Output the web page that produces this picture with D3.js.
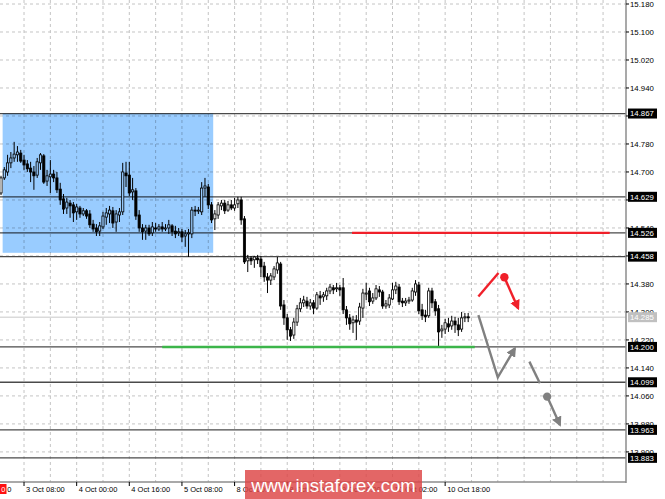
<!DOCTYPE html>
<html>
<head>
<meta charset="utf-8">
<script src="https://cdn.jsdelivr.net/npm/d3@7/dist/d3.min.js"></script>
<style>
  body { margin: 0; background: #fff; }
  svg { display: block; font-family: "Liberation Sans", Arial, sans-serif; }
</style>
</head>
<body>
<svg id="chart"></svg>
<script>
// H1 candles, bar index 0 .. 142
var opens = [14.640,14.683,14.700,14.726,14.740,14.749,14.754,14.734,14.723,14.711,14.700,14.691,14.726,14.746,14.674,14.686,14.694,14.683,14.651,14.623,
  14.597,14.611,14.606,14.586,14.597,14.580,14.589,14.580,14.551,14.540,14.531,14.543,14.571,14.580,14.589,14.557,14.577,14.586,14.697,14.691,
  14.643,14.646,14.577,14.540,14.531,14.540,14.526,14.540,14.537,14.543,14.537,14.540,14.546,14.531,14.526,14.529,14.517,14.523,14.523,14.591,
  14.589,14.586,14.654,14.657,14.606,14.566,14.577,14.603,14.611,14.591,14.606,14.597,14.609,14.620,14.566,14.446,14.454,14.449,14.454,14.451,
  14.431,14.400,14.391,14.400,14.420,14.437,14.320,14.283,14.249,14.234,14.271,14.309,14.326,14.331,14.317,14.326,14.311,14.346,14.343,14.346,
  14.360,14.369,14.366,14.369,14.369,14.306,14.283,14.269,14.277,14.274,14.311,14.351,14.360,14.331,14.340,14.363,14.357,14.317,14.320,14.337,
  14.363,14.371,14.331,14.326,14.331,14.334,14.357,14.377,14.306,14.291,14.289,14.360,14.329,14.309,14.246,14.251,14.266,14.260,14.274,14.263,
  14.251,14.283,14.286];
var highs = [14.689,14.714,14.749,14.757,14.786,14.774,14.763,14.749,14.734,14.729,14.717,14.740,14.754,14.751,14.706,14.734,14.706,14.700,14.669,14.637,
  14.626,14.620,14.614,14.609,14.603,14.597,14.594,14.591,14.563,14.551,14.557,14.586,14.597,14.603,14.600,14.591,14.597,14.726,14.729,14.729,
  14.683,14.654,14.591,14.551,14.549,14.549,14.557,14.554,14.551,14.557,14.551,14.563,14.551,14.546,14.540,14.537,14.534,14.537,14.600,14.603,
  14.600,14.671,14.683,14.666,14.614,14.591,14.614,14.620,14.620,14.617,14.620,14.626,14.629,14.629,14.574,14.463,14.460,14.460,14.463,14.460,
  14.443,14.411,14.411,14.431,14.457,14.443,14.334,14.294,14.257,14.283,14.320,14.340,14.346,14.343,14.337,14.334,14.357,14.360,14.357,14.369,
  14.380,14.377,14.383,14.377,14.397,14.317,14.294,14.289,14.291,14.326,14.366,14.383,14.369,14.354,14.377,14.374,14.363,14.334,14.351,14.383,
  14.386,14.380,14.340,14.340,14.343,14.369,14.391,14.386,14.323,14.306,14.369,14.369,14.337,14.320,14.263,14.280,14.283,14.289,14.286,14.283,
  14.300,14.297,14.297];
var lows = [14.634,14.677,14.689,14.711,14.729,14.729,14.726,14.706,14.700,14.671,14.649,14.683,14.706,14.666,14.660,14.640,14.671,14.640,14.606,14.580,
  14.580,14.569,14.557,14.563,14.569,14.574,14.566,14.540,14.529,14.517,14.517,14.537,14.549,14.554,14.540,14.529,14.557,14.577,14.657,14.631,
  14.620,14.563,14.529,14.506,14.506,14.517,14.517,14.529,14.531,14.529,14.531,14.523,14.517,14.511,14.517,14.500,14.486,14.457,14.511,14.574,
  14.580,14.577,14.629,14.594,14.554,14.534,14.566,14.591,14.580,14.586,14.591,14.589,14.597,14.549,14.437,14.414,14.434,14.426,14.437,14.400,
  14.386,14.354,14.377,14.391,14.409,14.306,14.263,14.220,14.217,14.223,14.260,14.300,14.314,14.309,14.306,14.294,14.306,14.320,14.329,14.334,
  14.351,14.351,14.357,14.346,14.294,14.263,14.249,14.240,14.220,14.263,14.283,14.334,14.317,14.323,14.334,14.343,14.309,14.309,14.311,14.334,
  14.351,14.320,14.314,14.317,14.323,14.329,14.346,14.294,14.277,14.271,14.283,14.311,14.289,14.200,14.226,14.237,14.243,14.249,14.240,14.231,
  14.243,14.271,14.271];
var closes = [14.683,14.706,14.726,14.740,14.751,14.757,14.731,14.720,14.709,14.700,14.689,14.729,14.749,14.671,14.689,14.694,14.683,14.649,14.620,14.594,
  14.614,14.603,14.583,14.600,14.580,14.589,14.574,14.549,14.537,14.529,14.546,14.574,14.583,14.591,14.554,14.580,14.586,14.700,14.689,14.640,
  14.649,14.574,14.540,14.529,14.540,14.523,14.543,14.537,14.543,14.537,14.540,14.549,14.529,14.523,14.529,14.514,14.523,14.526,14.591,14.589,
  14.591,14.654,14.660,14.606,14.563,14.580,14.606,14.611,14.589,14.606,14.597,14.606,14.620,14.563,14.443,14.454,14.446,14.457,14.449,14.429,
  14.400,14.391,14.403,14.423,14.440,14.317,14.283,14.249,14.231,14.271,14.309,14.326,14.334,14.317,14.326,14.311,14.349,14.340,14.349,14.360,
  14.371,14.363,14.369,14.363,14.306,14.283,14.266,14.277,14.271,14.314,14.354,14.354,14.329,14.340,14.366,14.357,14.317,14.323,14.340,14.363,
  14.374,14.329,14.326,14.331,14.334,14.360,14.380,14.303,14.289,14.286,14.360,14.326,14.303,14.243,14.251,14.269,14.257,14.274,14.263,14.249,
  14.283,14.286,14.285];

var priceTicks = [13.900, 13.980, 14.060, 14.140, 14.220, 14.300, 14.380, 14.460, 14.540, 14.620, 14.700, 14.780, 14.860, 14.940, 15.020, 15.100, 15.180];
var levels = [14.867, 14.629, 14.526, 14.458, 14.200, 14.099, 13.963, 13.883];
var lastPrice = 14.285;

var timeTickIdx = [7, 23, 39, 55, 71, 87, 103, 119, 135];
var timeTickLabels = ["3 Oct 08:00", "4 Oct 00:00", "4 Oct 16:00", "5 Oct 08:00",
  "8 Oct 00:00", "8 Oct 16:00", "9 Oct 10:00", "10 Oct 02:00", "10 Oct 18:00"];

// drawn objects: range box, resistance / support segments, forecast arrows
var box = { from: 0.5, to: 64.5, top: 14.867, bottom: 14.469 };
var redLine = { from: 106.7, to: 185, price: 14.526 };
var greenLine = { from: 49, to: 144, price: 14.200 };
var redPath = [[145.1, 14.344], [151.2, 14.411]];
var redDot = [153.0, 14.399];
var redArrow = [[153.0, 14.399], [157.2, 14.310]];
var grayPath = [[145.1, 14.291], [151.0, 14.113], [156.2, 14.196]];
var grayPath2 = [[160.6, 14.158], [163.8, 14.096]];
var grayDot = [166.0, 14.058];
var grayArrow = [[166.0, 14.058], [169.9, 13.977]];

var width = 665, height = 499;
var plotW = 626, plotH = 482;

var svg = d3.select("#chart").attr("width", width).attr("height", height);

var x = d3.scaleLinear().domain([0, 190]).range([1, 626.1]);
var y = d3.scaleLinear().domain([13.814, 15.18]).range([482, 4]);

var defs = svg.append("defs");
defs.append("clipPath").attr("id", "plot").append("rect")
    .attr("width", plotW).attr("height", plotH);

function marker(id, color) {
  defs.append("marker")
      .attr("id", id)
      .attr("viewBox", "0 0 10 10")
      .attr("refX", 8).attr("refY", 5)
      .attr("markerWidth", 4.2).attr("markerHeight", 4.2)
      .attr("markerUnits", "strokeWidth")
      .attr("orient", "auto")
    .append("path")
      .attr("d", "M0,0L10,5L0,10Z")
      .attr("fill", color);
}
marker("headRed", "#f0202a");
marker("headGray", "#808080");

var g = svg.append("g").attr("clip-path", "url(#plot)");

// dashed grid
var gridIdx = d3.range(-1, 190, 8);
g.selectAll("line.vgrid").data(gridIdx).enter().append("line")
    .attr("x1", function(d) { return x(d); }).attr("x2", function(d) { return x(d); })
    .attr("y1", 0).attr("y2", plotH)
    .attr("stroke", "#c4c4c4").attr("stroke-dasharray", "3,3");

g.selectAll("line.hgrid").data(priceTicks).enter().append("line")
    .attr("x1", 0).attr("x2", plotW)
    .attr("y1", function(d) { return y(d); }).attr("y2", function(d) { return y(d); })
    .attr("stroke", "#c4c4c4").attr("stroke-dasharray", "3,3");

// current price line
g.append("line")
    .attr("x1", 0).attr("x2", plotW)
    .attr("y1", y(lastPrice)).attr("y2", y(lastPrice))
    .attr("stroke", "#c8c8c8");

// horizontal levels
g.selectAll("line.level").data(levels).enter().append("line")
    .attr("x1", 0).attr("x2", plotW)
    .attr("y1", function(d) { return y(d); }).attr("y2", function(d) { return y(d); })
    .attr("stroke", "#4a4a4a").attr("stroke-width", 1.3);

// candles
var bars = closes.map(function(c, i) {
  return { i: i, o: opens[i], h: highs[i], l: lows[i], c: c };
});

var candle = g.selectAll("g.candle").data(bars).enter().append("g");

candle.append("line")
    .attr("x1", function(d) { return x(d.i); }).attr("x2", function(d) { return x(d.i); })
    .attr("y1", function(d) { return y(d.h); }).attr("y2", function(d) { return y(d.l); })
    .attr("stroke", "#000").attr("stroke-width", 1);

candle.append("rect")
    .attr("x", function(d) { return x(d.i) - 1.1; })
    .attr("width", 2.2)
    .attr("y", function(d) { return y(Math.max(d.o, d.c)); })
    .attr("height", function(d) { return Math.max(1, Math.abs(y(d.o) - y(d.c))); })
    .attr("fill", function(d) { return d.c >= d.o ? "#fff" : "#000"; })
    .attr("stroke", "#000").attr("stroke-width", 0.8);

// range rectangle, blended over candles
g.append("rect")
    .attr("x", x(box.from)).attr("width", x(box.to) - x(box.from))
    .attr("y", y(box.top)).attr("height", y(box.bottom) - y(box.top))
    .attr("fill", "#99ccff")
    .style("mix-blend-mode", "multiply");

// red and green segments
g.append("line")
    .attr("x1", x(redLine.from)).attr("x2", x(redLine.to))
    .attr("y1", y(redLine.price)).attr("y2", y(redLine.price))
    .attr("stroke", "#f0202a").attr("stroke-width", 2.4);

g.append("line")
    .attr("x1", x(greenLine.from)).attr("x2", x(greenLine.to))
    .attr("y1", y(greenLine.price)).attr("y2", y(greenLine.price))
    .attr("stroke", "#3cb54a").attr("stroke-width", 2.4);

// forecast arrows
var line = d3.line()
    .x(function(d) { return x(d[0]); })
    .y(function(d) { return y(d[1]); });

function path(pts, color, head) {
  var p = g.append("path")
      .attr("d", line(pts))
      .attr("fill", "none")
      .attr("stroke", color).attr("stroke-width", 2.4)
      .attr("stroke-linejoin", "miter");
  if (head) p.attr("marker-end", "url(#" + head + ")");
}

path(redPath, "#f0202a");
path(redArrow, "#f0202a", "headRed");
g.append("circle").attr("cx", x(redDot[0])).attr("cy", y(redDot[1])).attr("r", 4.2).attr("fill", "#f0202a");

path(grayPath, "#808080", "headGray");
path(grayPath2, "#808080");
path(grayArrow, "#808080", "headGray");
g.append("circle").attr("cx", x(grayDot[0])).attr("cy", y(grayDot[1])).attr("r", 4.2).attr("fill", "#808080");

// frame
svg.append("line").attr("x1", plotW).attr("x2", plotW).attr("y1", 0).attr("y2", plotH + 1)
    .attr("stroke", "#8c8c8c").attr("stroke-width", 1.5);
svg.append("line").attr("x1", 0).attr("x2", plotW).attr("y1", plotH).attr("y2", plotH)
    .attr("stroke", "#8c8c8c").attr("stroke-width", 1.5);

// price axis (labels fully under a level box are not shown)
var ax = svg.append("g").attr("font-size", "7.8px").attr("fill", "#000");
priceTicks.forEach(function(p) {
  ax.append("line").attr("x1", plotW).attr("x2", plotW + 3)
      .attr("y1", y(p)).attr("y2", y(p)).attr("stroke", "#000");
  var hidden = levels.some(function(l) { return Math.abs(l - p) < 0.012; });
  if (hidden) return;
  ax.append("text").attr("x", plotW + 4).attr("y", y(p)).attr("dy", "0.35em")
      .text(p.toFixed(3));
});

function priceBox(p, bg) {
  ax.append("rect").attr("x", plotW + 2).attr("y", y(p) - 5)
      .attr("width", 29).attr("height", 10).attr("fill", bg);
  ax.append("text").attr("x", plotW + 4).attr("y", y(p)).attr("dy", "0.35em")
      .attr("fill", "#fff").text(p.toFixed(3));
}
priceBox(lastPrice, "#c0c0c0");
levels.forEach(function(p) { priceBox(p, "#000"); });

// time axis
var tx = svg.append("g").attr("font-size", "7.5px").attr("fill", "#000");
tx.append("rect").attr("x", 0).attr("y", 484).attr("width", 6.5).attr("height", 10).attr("fill", "#ff1010");
tx.append("text").attr("x", 1.2).attr("y", 492).attr("fill", "#fff").text("0");
tx.append("text").attr("x", 7.2).attr("y", 492).text("0");
timeTickIdx.forEach(function(idx, k) {
  tx.append("line").attr("x1", x(idx)).attr("x2", x(idx))
      .attr("y1", plotH).attr("y2", plotH + 4).attr("stroke", "#000");
  tx.append("text").attr("x", x(idx) + 2).attr("y", 492)
      .text(timeTickLabels[k]);
});

// watermark
svg.append("rect").attr("x", 245).attr("y", 470).attr("width", 177).attr("height", 29)
    .attr("fill", "#dd4444").attr("fill-opacity", 0.82);
svg.append("text").attr("x", 333.5).attr("y", 491.5)
    .attr("text-anchor", "middle")
    .attr("font-size", "18.5px")
    .attr("fill", "#fff")
    .text("www.instaforex.com");
</script>
</body>
</html>
